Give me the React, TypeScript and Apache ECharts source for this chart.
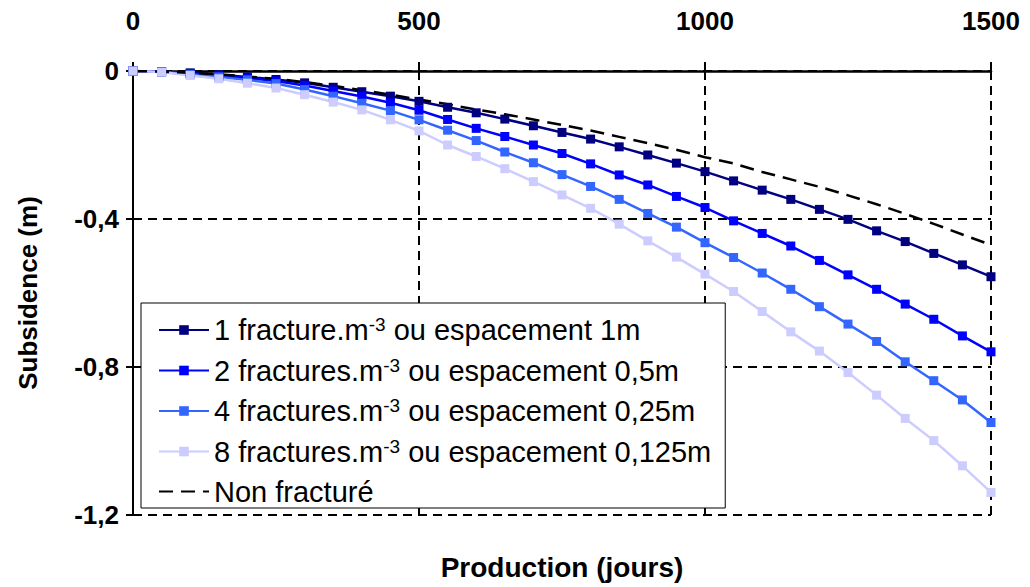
import React, { useEffect, useRef } from "react";
import * as echarts from "echarts";

// Production days (x)
const DAYS = [0, 50, 100, 150, 200, 250, 300, 350, 400, 450, 500, 550, 600, 650, 700, 750, 800, 850, 900, 950, 1000, 1050, 1100, 1150, 1200, 1250, 1300, 1350, 1400, 1450, 1500];

// Subsidence (m) per series
const S1_1M = [0, -0.002, -0.005, -0.01, -0.016, -0.023, -0.032, -0.044, -0.056, -0.068, -0.082, -0.098, -0.113, -0.13, -0.148, -0.166, -0.184, -0.205, -0.227, -0.249, -0.272, -0.297, -0.322, -0.347, -0.374, -0.401, -0.432, -0.461, -0.493, -0.524, -0.556];
const S2_05M = [0, -0.002, -0.007, -0.013, -0.019, -0.027, -0.039, -0.054, -0.069, -0.086, -0.106, -0.131, -0.155, -0.177, -0.2, -0.223, -0.251, -0.281, -0.308, -0.339, -0.369, -0.405, -0.439, -0.473, -0.512, -0.551, -0.59, -0.63, -0.671, -0.716, -0.759];
const S3_025M = [0, -0.003, -0.009, -0.016, -0.024, -0.034, -0.05, -0.068, -0.087, -0.107, -0.132, -0.16, -0.188, -0.219, -0.248, -0.28, -0.312, -0.347, -0.385, -0.422, -0.464, -0.504, -0.546, -0.59, -0.637, -0.684, -0.731, -0.786, -0.837, -0.889, -0.95];
const S4_0125M = [0, -0.003, -0.012, -0.021, -0.033, -0.046, -0.064, -0.084, -0.105, -0.132, -0.162, -0.2, -0.231, -0.264, -0.299, -0.335, -0.371, -0.414, -0.459, -0.503, -0.549, -0.596, -0.65, -0.705, -0.757, -0.815, -0.876, -0.939, -0.999, -1.067, -1.139];
const NON_FRACT = [0, -0.002, -0.005, -0.009, -0.015, -0.021, -0.03, -0.04, -0.052, -0.064, -0.077, -0.09, -0.104, -0.117, -0.131, -0.146, -0.161, -0.178, -0.195, -0.213, -0.233, -0.25, -0.273, -0.293, -0.313, -0.336, -0.36, -0.386, -0.413, -0.442, -0.47];

// Legend labels (prefix, superscript, suffix)
const LEGEND_PRE = ["1 fracture.m", "2 fractures.m", "4 fractures.m", "8 fractures.m", "Non fracturé"];
const LEGEND_SUP = ["-3", "-3", "-3", "-3", ""];
const LEGEND_POST = [" ou espacement 1m", " ou espacement 0,5m", " ou espacement 0,25m", " ou espacement 0,125m", ""];
const SERIES_NAMES = LEGEND_PRE.map((p, i) => p + LEGEND_SUP[i] + LEGEND_POST[i]);
const COLORS = ["#000080", "#0000FF", "#3366FF", "#CCCCFF", "#000000"];

const X_TITLE = "Production (jours)";
const Y_TITLE = "Subsidence (m)";

const FONT = "'Liberation Sans', Arial, sans-serif";

export default function App() {
  const ref = useRef<HTMLDivElement>(null);
  useEffect(() => {
    document.body.style.margin = "0";
    const chart = echarts.init(ref.current!, null, { renderer: "svg" });
    const allData = [S1_1M, S2_05M, S3_025M, S4_0125M, NON_FRACT];
    const series: any[] = allData.map((vals, i) => {
      const isDash = i === 4;
      return {
        name: SERIES_NAMES[i],
        type: "line",
        data: vals.map((v, j) => [DAYS[j], v]),
        symbol: isDash ? "none" : "rect",
        symbolSize: 9,
        showSymbol: !isDash,
        itemStyle: { color: COLORS[i] },
        lineStyle: { color: COLORS[i], width: 2.5, type: isDash ? [14, 8] : "solid" },
        emphasis: { disabled: true },
        z: 3,
      };
    });
    const legendMap: Record<string, string> = {};
    SERIES_NAMES.forEach((n, i) => {
      legendMap[n] = LEGEND_SUP[i]
        ? `{t|${LEGEND_PRE[i]}}{s|${LEGEND_SUP[i]}}{t|${LEGEND_POST[i]}}`
        : `{t|${LEGEND_PRE[i]}}`;
    });
    const legendData = SERIES_NAMES.map((n, i) =>
      i === 4 ? { name: n, itemStyle: { opacity: 0 } } : { name: n }
    );
    chart.setOption({
      animation: false,
      backgroundColor: "#ffffff",
      textStyle: { fontFamily: FONT },
      grid: { left: 133, right: 39, top: 71, bottom: 72, containLabel: false },
      xAxis: {
        type: "value",
        position: "top",
        min: 0,
        max: 1500,
        interval: 500,
        axisLine: { show: true, onZero: false, lineStyle: { color: "#000", width: 2.5 } },
        axisTick: { show: true, length: 9, lineStyle: { color: "#000", width: 2 } },
        axisLabel: {
          color: "#000",
          fontSize: 26,
          fontWeight: "bold",
          fontFamily: FONT,
          margin: 37,
          formatter: (v: number) => String(Math.round(v)),
        },
        splitLine: { show: true, lineStyle: { color: "#000", width: 2, type: [9, 6] } },
      },
      yAxis: {
        type: "value",
        min: -1.2,
        max: 0,
        interval: 0.4,
        name: Y_TITLE,
        nameLocation: "middle",
        nameGap: 92,
        nameTextStyle: { color: "#000", fontSize: 26, fontWeight: "bold", fontFamily: FONT },
        axisLine: { show: true, onZero: false, lineStyle: { color: "#000", width: 2 } },
        axisTick: { show: true, length: 7, lineStyle: { color: "#000", width: 2 } },
        axisLabel: {
          color: "#000",
          fontSize: 26,
          fontWeight: "bold",
          fontFamily: FONT,
          margin: 14,
          formatter: (v: number) => (Math.abs(v) < 1e-9 ? "0" : v.toFixed(1).replace(".", ",")),
        },
        splitLine: { show: true, lineStyle: { color: "#000", width: 2, type: [9, 6] } },
      },
      legend: {
        orient: "vertical",
        left: 141,
        top: 303,
        data: legendData,
        backgroundColor: "#ffffff",
        borderColor: "#000",
        borderWidth: 1,
        borderRadius: 0,
        padding: [12, 14, 2, 17],
        itemWidth: 50,
        itemHeight: 12,
        itemGap: 11,
        selectedMode: false,
        formatter: (name: string) => legendMap[name],
        textStyle: {
          color: "#000",
          fontFamily: FONT,
          fontSize: 29,
          rich: {
            t: { fontSize: 29, lineHeight: 30, fontFamily: FONT, color: "#000" },
            s: { fontSize: 19, lineHeight: 16, verticalAlign: "top", fontFamily: FONT, color: "#000" },
          },
        },
        z: 10,
      },
      graphic: [
        {
          type: "text",
          x: 562,
          y: 567,
          style: {
            text: X_TITLE,
            fill: "#000",
            font: `bold 28px ${FONT}`,
            fontSize: 28,
            fontWeight: "bold",
            fontFamily: FONT,
            textAlign: "center",
            textVerticalAlign: "middle",
            align: "center",
            verticalAlign: "middle",
          },
        },
      ],
      series,
    });
    return () => chart.dispose();
  }, []);
  return <div ref={ref} style={{ width: 1030, height: 587 }} />;
}
